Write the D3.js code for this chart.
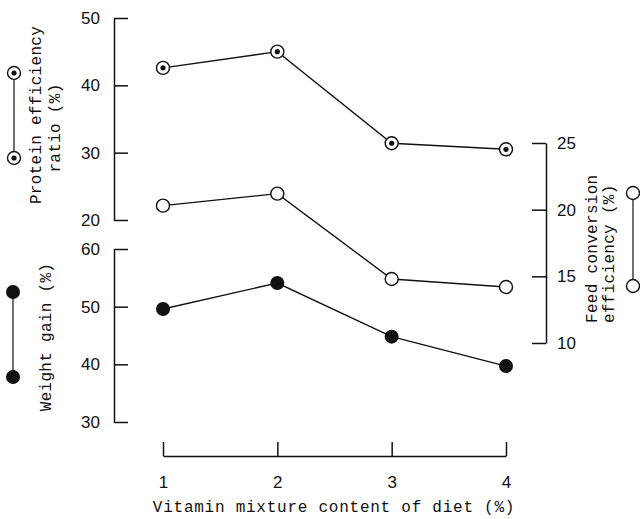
<!DOCTYPE html>
<html>
<head>
<meta charset="utf-8">
<script src="https://cdn.jsdelivr.net/npm/d3@7"></script>
<style>
  html, body { margin: 0; padding: 0; background: #fff; }
  svg { display: block; }
  .tick text { font-family: "Liberation Sans", Arial, sans-serif; font-size: 17px; fill: #111; }
  .lbl { font-family: "Liberation Mono", "DejaVu Sans Mono", monospace; font-size: 16px; fill: #111; letter-spacing: 0.3px; }
</style>
</head>
<body>
<script>
// Vitamin mixture content of diet (%)
const vitaminLevels = [1, 2, 3, 4];
const xTickLabels = ["1", "2", "3", "4"];

// Series values per vitamin level
const proteinEfficiency = [42.6, 45.0, 31.4, 30.5];
const feedConversion = [20.3, 21.2, 14.8, 14.2];
const weightGain = [49.6, 54.1, 44.8, 39.7];

// Axis tick values
const perTicks = [20, 30, 40, 50];
const weightTicks = [30, 40, 50, 60];
const fceTicks = [10, 15, 20, 25];

const W = 640, H = 519;
const svg = d3.select("body").append("svg").attr("width", W).attr("height", H);

const x = d3.scaleLinear().domain([1, 4]).range([163, 506]);
const yPer = d3.scaleLinear().domain([20, 50]).range([220, 18]);
const yWeight = d3.scaleLinear().domain([30, 60]).range([422, 249]);
const yFce = d3.scaleLinear().domain([10, 25]).range([343, 143]);

function styleAxis(g) {
  g.select(".domain").attr("stroke", "#111").attr("stroke-width", 1.5);
  g.selectAll(".tick line").attr("stroke", "#111").attr("stroke-width", 1.5);
}

// Left axis: protein efficiency ratio
svg.append("g").attr("transform", "translate(114,0)")
  .call(d3.axisLeft(yPer).tickValues(perTicks).tickSizeInner(-14).tickSizeOuter(0).tickPadding(14))
  .call(styleAxis);

// Left axis: weight gain
svg.append("g").attr("transform", "translate(114,0)")
  .call(d3.axisLeft(yWeight).tickValues(weightTicks).tickSizeInner(-14).tickSizeOuter(0).tickPadding(14))
  .call(styleAxis);

// Right axis: feed conversion efficiency
svg.append("g").attr("transform", "translate(546,0)")
  .call(d3.axisRight(yFce).tickValues(fceTicks).tickSizeInner(-14).tickSizeOuter(0).tickPadding(11))
  .call(styleAxis);

// Bottom axis
svg.append("g").attr("transform", "translate(0,456)")
  .call(d3.axisBottom(x).tickValues(vitaminLevels).tickFormat((d, i) => xTickLabels[i])
    .tickSizeInner(-14).tickSizeOuter(0).tickPadding(20))
  .call(styleAxis);

const line = y => d3.line().x((d, i) => x(vitaminLevels[i])).y(d => y(d));

function drawSeries(values, y, kind) {
  svg.append("path").datum(values)
    .attr("d", line(y))
    .attr("fill", "none").attr("stroke", "#111").attr("stroke-width", 1.4);
  const pts = svg.append("g").selectAll("g").data(values).join("g")
    .attr("transform", (d, i) => `translate(${x(vitaminLevels[i])},${y(d)})`);
  drawMarker(pts, kind);
}

function drawMarker(sel, kind) {
  if (kind === "filled") {
    sel.append("circle").attr("r", 7).attr("fill", "#111");
  } else {
    sel.append("circle").attr("r", 6.5).attr("fill", "#fff").attr("stroke", "#111").attr("stroke-width", 1.4);
    if (kind === "dot") sel.append("circle").attr("r", 2.6).attr("fill", "#111");
  }
}

drawSeries(proteinEfficiency, yPer, "dot");
drawSeries(feedConversion, yFce, "open");
drawSeries(weightGain, yWeight, "filled");

// Legend keys beside the axis titles
function legendKey(cx, y1, y2, kind) {
  svg.append("line").attr("x1", cx).attr("x2", cx).attr("y1", y1).attr("y2", y2)
    .attr("stroke", "#111").attr("stroke-width", 1.2);
  const g = svg.append("g").selectAll("g").data([y1, y2]).join("g")
    .attr("transform", d => `translate(${cx},${d})`);
  drawMarker(g, kind);
}
legendKey(14, 73, 158, "dot");
legendKey(13, 292, 377, "filled");
legendKey(633, 193, 286, "open");

// Axis titles
function vText(tx, ty, str, anchor) {
  svg.append("text").attr("class", "lbl")
    .attr("transform", `translate(${tx},${ty}) rotate(-90)`)
    .attr("text-anchor", anchor).text(str);
}
vText(41, 115, "Protein efficiency", "middle");
vText(60, 128, "ratio  (%)", "middle");
vText(51, 337, "Weight gain (%)", "middle");
vText(597, 323, "Feed  conversion", "start");
vText(614, 323, "efficiency  (%)", "start");

svg.append("text").attr("class", "lbl")
  .attr("x", 334).attr("y", 512).attr("text-anchor", "middle")
  .style("letter-spacing", "0.75px")
  .text("Vitamin mixture content of diet (%)");
</script>
</body>
</html>
